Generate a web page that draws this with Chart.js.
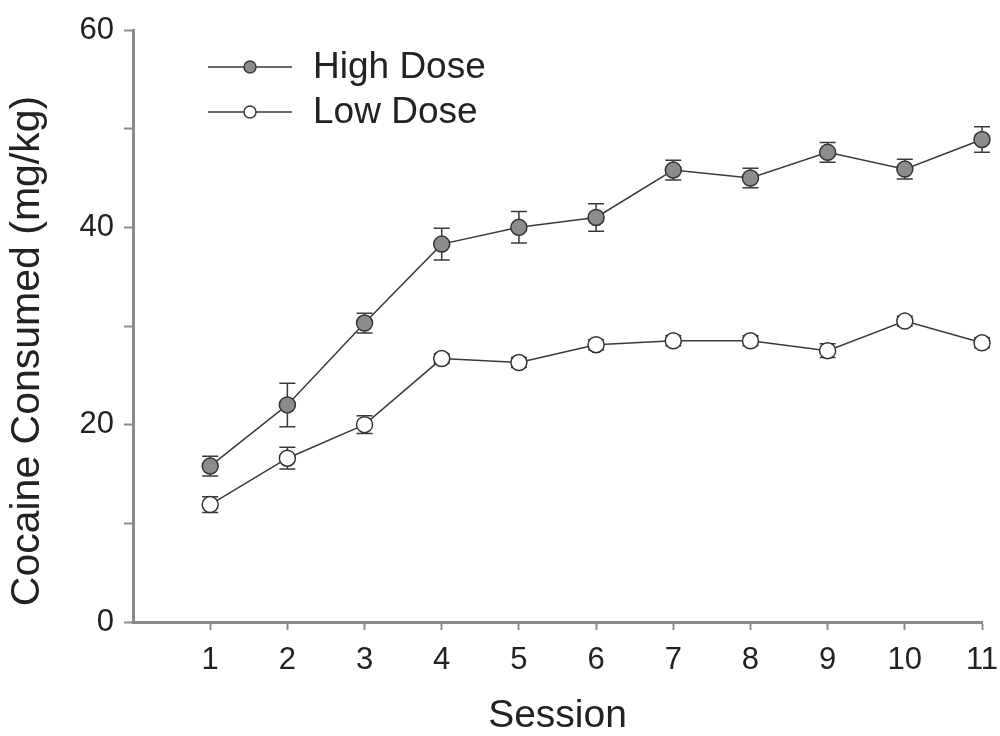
<!DOCTYPE html>
<html>
<head>
<meta charset="utf-8">
<script src="https://cdn.jsdelivr.net/npm/chart.js@4/dist/chart.umd.min.js"></script>
<style>
  html, body { margin: 0; padding: 0; background: #fff; }
  #wrap { width: 1000px; height: 736px; }
</style>
</head>
<body>
<div id="wrap"><canvas id="chart" width="1000" height="736"></canvas></div>
<script>
const sessions = [1, 2, 3, 4, 5, 6, 7, 8, 9, 10, 11];
const highDose = [15.8, 22.0, 30.3, 38.3, 40.0, 41.0, 45.8, 45.0, 47.6, 45.9, 48.9];
const highErr = [1.0, 2.2, 1.0, 1.6, 1.6, 1.4, 1.0, 1.0, 1.0, 1.0, 1.3];
const lowDose = [11.9, 16.6, 20.0, 26.7, 26.3, 28.1, 28.5, 28.5, 27.5, 30.5, 28.3];
const lowErr = [0.8, 1.1, 0.9, 0.5, 0.5, 0.5, 0.5, 0.5, 0.7, 0.5, 0.5];
const seriesNames = ['High Dose', 'Low Dose'];
const yTitle = 'Cocaine Consumed (mg/kg)';

const FONT = '"Liberation Sans", Arial, sans-serif';
const AXIS = '#8a8a8a';
const LINE = '#3a3a3a';

// error bars under the markers
const errorBars = {
  id: 'errorBars',
  beforeDatasetsDraw(chart) {
    const ctx = chart.ctx;
    const x = chart.scales.x, y = chart.scales.y;
    const errs = [highErr, lowErr];
    ctx.save();
    ctx.strokeStyle = LINE;
    ctx.lineWidth = 1.5;
    chart.data.datasets.forEach((ds, i) => {
      ds.data.forEach((p, j) => {
        const px = x.getPixelForValue(p.x);
        const top = y.getPixelForValue(p.y + errs[i][j]);
        const bot = y.getPixelForValue(p.y - errs[i][j]);
        ctx.beginPath();
        ctx.moveTo(px, top); ctx.lineTo(px, bot);
        ctx.moveTo(px - 8, top); ctx.lineTo(px + 8, top);
        ctx.moveTo(px - 8, bot); ctx.lineTo(px + 8, bot);
        ctx.stroke();
      });
    });
    ctx.restore();
  }
};

// legend drawn as line + marker, plus the rotated y title
const extras = {
  id: 'extras',
  afterDraw(chart) {
    const ctx = chart.ctx;
    ctx.save();
    chart.data.datasets.forEach((ds, i) => {
      const yy = 67 + i * 45;
      ctx.strokeStyle = LINE;
      ctx.lineWidth = 1.5;
      ctx.beginPath();
      ctx.moveTo(208, yy); ctx.lineTo(292, yy);
      ctx.stroke();
      ctx.beginPath();
      ctx.arc(250, yy, 6, 0, Math.PI * 2);
      ctx.fillStyle = ds.pointBackgroundColor;
      ctx.fill();
      ctx.stroke();
      ctx.fillStyle = '#222';
      ctx.font = '37px ' + FONT;
      ctx.textBaseline = 'middle';
      ctx.fillText(ds.label, 313, yy + 1);
    });
    ctx.translate(28, 351);
    ctx.rotate(-Math.PI / 2);
    ctx.font = '41px ' + FONT;
    ctx.textAlign = 'center';
    ctx.textBaseline = 'middle';
    ctx.fillStyle = '#222';
    ctx.fillText(yTitle, 0, 0);
    ctx.restore();
  }
};

new Chart(document.getElementById('chart'), {
  type: 'line',
  data: {
    datasets: [
      {
        label: seriesNames[0],
        data: sessions.map((s, i) => ({ x: s, y: highDose[i] })),
        borderColor: LINE,
        borderWidth: 1.5,
        pointRadius: 8,
        pointBackgroundColor: '#8c8c8c',
        pointBorderColor: '#333',
        pointBorderWidth: 1.5,
        clip: false
      },
      {
        label: seriesNames[1],
        data: sessions.map((s, i) => ({ x: s, y: lowDose[i] })),
        borderColor: LINE,
        borderWidth: 1.5,
        pointRadius: 8,
        pointBackgroundColor: '#ffffff',
        pointBorderColor: '#333',
        pointBorderWidth: 1.5,
        clip: false
      }
    ]
  },
  options: {
    responsive: false,
    animation: false,
    layout: { padding: { top: 30, right: 18, left: 0, bottom: 0 } },
    plugins: { legend: { display: false }, tooltip: { enabled: false } },
    scales: {
      x: {
        type: 'linear',
        min: 0,
        max: 11,
        afterFit(scale) {
          scale.height = 114;
          scale.paddingLeft = 0;
          scale.paddingRight = 0;
        },
        afterBuildTicks(scale) { scale.ticks = sessions.map(v => ({ value: v })); },
        ticks: {
          color: '#222',
          font: { family: FONT, size: 31 },
          padding: 12,
          maxRotation: 0,
          autoSkip: false
        },
        grid: { drawOnChartArea: false, drawTicks: true, tickLength: 8, tickColor: AXIS, tickWidth: 2 },
        border: { color: AXIS, width: 3 },
        title: {
          display: true,
          text: 'Session',
          color: '#222',
          font: { family: FONT, size: 39, lineHeight: 1 },
          padding: { top: 0, bottom: 0 }
        }
      },
      y: {
        min: 0,
        max: 60,
        afterFit(scale) {
          scale.width = 133;
          scale.paddingTop = 0;
          scale.paddingBottom = 0;
        },
        ticks: {
          stepSize: 10,
          color: '#222',
          font: { family: FONT, size: 31 },
          padding: 10,
          callback: v => (v % 20 === 0 ? v : '')
        },
        grid: { drawOnChartArea: false, drawTicks: true, tickLength: 9, tickColor: AXIS, tickWidth: 2 },
        border: { color: AXIS, width: 3 }
      }
    }
  },
  plugins: [errorBars, extras]
});
</script>
</body>
</html>
